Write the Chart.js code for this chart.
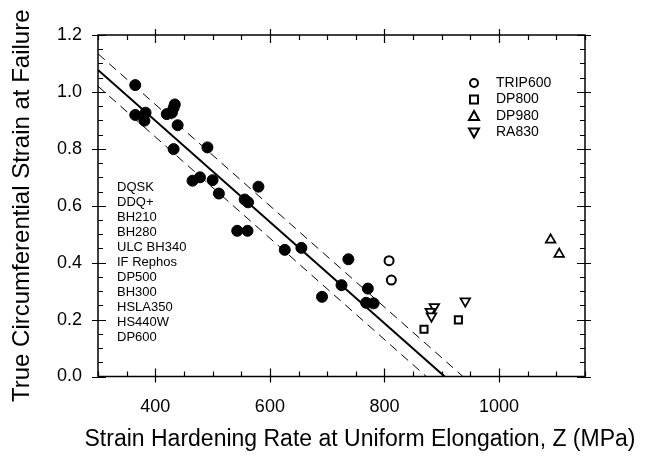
<!DOCTYPE html>
<html>
<head>
<meta charset="utf-8">
<script src="https://cdn.jsdelivr.net/npm/chart.js@4.4.1/dist/chart.umd.min.js"></script>
<style>
html,body{margin:0;padding:0;background:#fff;}
#wrap{width:647px;height:456px;}
</style>
</head>
<body>
<div id="wrap"><canvas id="failChart" width="647" height="456"></canvas></div>
<script>

// DATA

const steelX = [365,365,383,381,420,429,432,434,439,432,491,465,478,500,511,543,561,556,562,580,626,655,691,725,737,771,768,781];
const steelY = [1.024,0.919,0.927,0.899,0.922,0.927,0.944,0.956,0.883,0.799,0.805,0.688,0.700,0.690,0.643,0.512,0.512,0.622,0.612,0.667,0.445,0.452,0.280,0.321,0.412,0.309,0.259,0.257];

const tripX = [808,812];
const tripY = [0.407,0.339];
const dp800X = [869,929];
const dp800Y = [0.166,0.199];
const dp980X = [1090,1105];
const dp980Y = [0.48,0.43];
const ra830X = [887,880,882,941];
const ra830Y = [0.245,0.228,0.212,0.265];

// regression line and bounds (end points)
const fitX = [300,905];
const fitY = [1.077,0];
const upperX = [300,937];
const upperY = [1.134,0];
const lowerX = [300,873];
const lowerY = [1.020,0];

const xTicks = [400,600,800,1000];
const yTicks = [0,0.2,0.4,0.6,0.8,1.0,1.2];
const xMinor = [300,350,450,500,550,650,700,750,850,900,950,1050,1100,1150];
const yMinor = [0.05,0.1,0.15,0.25,0.3,0.35,0.45,0.5,0.55,0.65,0.7,0.75,0.85,0.9,0.95,1.05,1.1,1.15];

const xTitle = "Strain Hardening Rate at Uniform Elongation, Z (MPa)";
const yTitle = "True Circumferential Strain at Failure";
const steelGrades = ["DQSK","DDQ+","BH210","BH280","ULC BH340","IF Rephos","DP500","BH300","HSLA350","HS440W","DP600"];
const legendNames = ["TRIP600","DP800","DP980","RA830"];

function pts(xs, ys){
return xs.map(function(x,i){ return {x:x, y:ys[i]}; });
}

// FRAME + TICKS + TEXT

const framePlugin = {
id:"frame",
afterDraw(chart){
const ctx = chart.ctx;
const a = chart.chartArea;
const sx = chart.scales.x;
const sy = chart.scales.y;
ctx.save();
ctx.strokeStyle = "#000";
ctx.lineWidth = 1.5;
ctx.strokeRect(a.left, a.top, a.right-a.left, a.bottom-a.top);
ctx.lineWidth = 1.2;
ctx.beginPath();
xTicks.forEach(function(v){
let p = Math.round(sx.getPixelForValue(v))+0.5;
ctx.moveTo(p, a.bottom+6); ctx.lineTo(p, a.bottom-8);
ctx.moveTo(p, a.top-6); ctx.lineTo(p, a.top+8);
});
xMinor.forEach(function(v){
let p = Math.round(sx.getPixelForValue(v))+0.5;
ctx.moveTo(p, a.bottom); ctx.lineTo(p, a.bottom-5);
ctx.moveTo(p, a.top); ctx.lineTo(p, a.top+5);
});
yTicks.forEach(function(v){
let p = Math.round(sy.getPixelForValue(v))+0.5;
ctx.moveTo(a.left-6, p); ctx.lineTo(a.left+8, p);
ctx.moveTo(a.right+6, p); ctx.lineTo(a.right-8, p);
});
yMinor.forEach(function(v){
let p = Math.round(sy.getPixelForValue(v))+0.5;
ctx.moveTo(a.left, p); ctx.lineTo(a.left+5, p);
ctx.moveTo(a.right, p); ctx.lineTo(a.right-5, p);
});
ctx.stroke();

ctx.fillStyle = "#000";

// x title
ctx.font = "23px Arial";
ctx.textAlign = "center";
ctx.textBaseline = "middle";
ctx.fillText(xTitle, 360, 440);

// grade list
ctx.font = "13px Arial";
ctx.textAlign = "left";
steelGrades.forEach(function(g,i){
ctx.fillText(g, 117, 187 + i*15);
});

// symbol legend
ctx.font = "14px Arial";
ctx.lineWidth = 2;
legendNames.forEach(function(n,i){
let cy = 83 + i*16.5;
let cx = 474;
ctx.beginPath();
if(i===0){ ctx.arc(cx, cy, 4, 0, Math.PI*2); }
if(i===1){ ctx.rect(cx-4, cy-4, 8, 8); }
if(i===2){ ctx.moveTo(cx, cy-5); ctx.lineTo(cx+5, cy+4); ctx.lineTo(cx-5, cy+4); ctx.closePath(); }
if(i===3){ ctx.moveTo(cx, cy+5); ctx.lineTo(cx+5, cy-4); ctx.lineTo(cx-5, cy-4); ctx.closePath(); }
ctx.stroke();
ctx.fillText(n, 496, cy);
});
ctx.restore();
}
};

// CHART

new Chart(
document.getElementById("failChart"),
{
type:"scatter",
data:{
datasets:[
{label:"fit", data:pts(fitX,fitY), showLine:true, borderColor:"#000", borderWidth:2, pointRadius:0},
{label:"upper", data:pts(upperX,upperY), showLine:true, borderColor:"#000", borderWidth:1, borderDash:[9,6], pointRadius:0},
{label:"lower", data:pts(lowerX,lowerY), showLine:true, borderColor:"#000", borderWidth:1, borderDash:[9,6], pointRadius:0},
{label:"steels", data:pts(steelX,steelY), pointStyle:"circle", pointRadius:5.5, backgroundColor:"#000", borderColor:"#000"},
{label:"TRIP600", data:pts(tripX,tripY), pointStyle:"circle", pointRadius:4.5, borderWidth:2, backgroundColor:"#fff", borderColor:"#000"},
{label:"DP800", data:pts(dp800X,dp800Y), pointStyle:"rect", pointRadius:5, borderWidth:2, backgroundColor:"#fff", borderColor:"#000"},
{label:"DP980", data:pts(dp980X,dp980Y), pointStyle:"triangle", pointRadius:5.5, borderWidth:1.8, backgroundColor:"#fff", borderColor:"#000"},
{label:"RA830", data:pts(ra830X,ra830Y), pointStyle:"triangle", rotation:180, pointRadius:5.5, borderWidth:1.8, backgroundColor:"#fff", borderColor:"#000"}
]
},
options:{
responsive:false,
animation:false,
layout:{padding:{top:35,right:62,left:0,bottom:0}},
plugins:{legend:{display:false}, tooltip:{enabled:false}},
scales:{
x:{
type:"linear", min:300, max:1150,
afterBuildTicks:function(s){ s.ticks = xTicks.map(function(v){ return {value:v}; }); },
afterFit:function(s){ s.height = 79.5; },
grid:{display:false}, border:{display:false},
ticks:{color:"#000", font:{family:"Arial", size:18}, padding:12, maxRotation:0, callback:function(v){ return String(v); }}
},
y:{
type:"linear", min:0, max:1.2,
afterBuildTicks:function(s){ s.ticks = yTicks.map(function(v){ return {value:v}; }); },
afterFit:function(s){ s.width = 98; },
grid:{display:false}, border:{display:false},
ticks:{color:"#000", font:{family:"Arial", size:18}, padding:8, callback:function(v){ return v.toFixed(1); }},
title:{display:true, text:yTitle, color:"#000", font:{family:"Arial", size:24}, padding:{top:8,bottom:2}}
}
}
},
plugins:[framePlugin]
}
);

</script>
</body>
</html>
